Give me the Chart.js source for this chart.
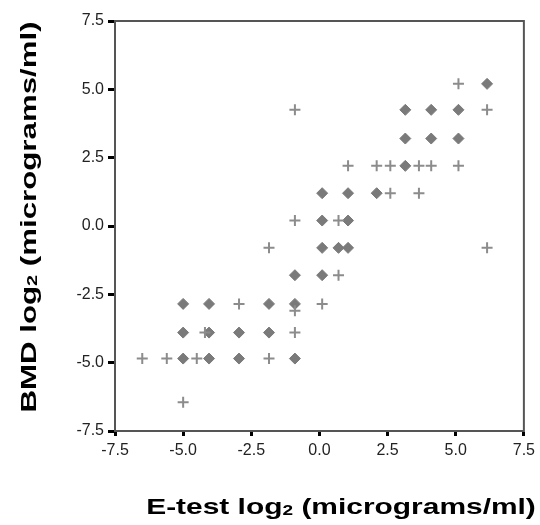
<!DOCTYPE html>
<html>
<head>
<meta charset="utf-8">
<script src="https://cdn.jsdelivr.net/npm/chart.js@4.4.1/dist/chart.umd.min.js"></script>
<style>
  html, body { margin: 0; background: #fff; }
  #wrap { width: 540px; height: 525px; }
</style>
</head>
<body>
<div id="wrap"><canvas id="myChart"></canvas></div>
<script>
// single cases (plain + markers)
const plusX = [5.1, -0.9, 6.15, 1.05, 2.1, 2.6, 3.65, 4.1, 5.1, 2.6, 3.65, -0.9, 0.7, -1.85, 6.15, 0.7, -2.95, 0.1, -0.9, -4.2, -0.9, -6.5, -5.6, -4.5, -1.85, -5.0];
const plusY = [5.2, 4.25, 4.25, 2.2, 2.2, 2.2, 2.2, 2.2, 2.2, 1.2, 1.2, 0.2, 0.2, -0.8, -0.8, -1.8, -2.85, -2.85, -3.1, -3.9, -3.9, -4.85, -4.85, -4.85, -4.85, -6.45];
// overlapping cases (filled markers)
const filledX = [6.15, 3.15, 4.1, 5.1, 3.15, 4.1, 5.1, 3.15, 0.1, 1.05, 2.1, 0.1, 1.05, 0.1, 0.7, 1.05, -0.9, 0.1, -5.0, -4.05, -1.85, -0.9, -5.0, -4.05, -2.95, -1.85, -5.0, -4.05, -2.95, -0.9];
const filledY = [5.2, 4.25, 4.25, 4.25, 3.2, 3.2, 3.2, 2.2, 1.2, 1.2, 1.2, 0.2, 0.2, -0.8, -0.8, -0.8, -1.8, -1.8, -2.85, -2.85, -2.85, -2.85, -3.9, -3.9, -3.9, -3.9, -4.85, -4.85, -4.85, -4.85];
const axisMin = -7.5;
const axisMax = 7.5;
const axisStep = 2.5;

const toPoints = (xs, ys) => xs.map((x, i) => ({ x: x, y: ys[i] }));

// box around plot + axis titles with subscript 2
const framePlugin = {
    id: 'frame',
    afterDraw(chart) {
        const { ctx, chartArea: a } = chart;
        ctx.save();
        ctx.strokeStyle = '#555';
        ctx.lineWidth = 2;
        ctx.strokeRect(a.left, a.top, a.right - a.left, a.bottom - a.top);

        const drawTitle = (parts, stretch) => {
            let w = 0;
            parts.forEach(p => { ctx.font = p[1]; w += ctx.measureText(p[0]).width; });
            ctx.scale(stretch, 1);
            let x = -w / 2;
            parts.forEach(p => {
                ctx.font = p[1];
                ctx.fillText(p[0], x, p[2]);
                x += ctx.measureText(p[0]).width;
            });
        };
        ctx.fillStyle = '#000';
        ctx.textBaseline = 'middle';
        ctx.textAlign = 'left';
        const big = 'bold 22px "Liberation Sans", Arial, sans-serif';
        const small = 'bold 14px "Liberation Sans", Arial, sans-serif';

        ctx.save();
        ctx.translate(341, 508);
        drawTitle([['E-test log', big, 0], ['2', small, 3], [' (micrograms/ml)', big, 0]], 1.36);
        ctx.restore();

        ctx.save();
        ctx.translate(30, 217);
        ctx.rotate(-Math.PI / 2);
        drawTitle([['BMD log', big, 0], ['2', small, 3], [' (micrograms/ml)', big, 0]], 1.42);
        ctx.restore();
        ctx.restore();
    }
};

const tickFont = { family: '"Liberation Sans", Arial, sans-serif', size: 16 };

const myChart = new Chart(document.getElementById('myChart'), {
    type: 'scatter',
    data: {
        datasets: [{
            label: 'single',
            data: toPoints(plusX, plusY),
            pointStyle: 'cross',
            pointRadius: 5.5,
            pointBorderWidth: 2,
            borderColor: '#8c8c8c',
            backgroundColor: '#8c8c8c'
        }, {
            label: 'overlap',
            data: toPoints(filledX, filledY),
            pointStyle: 'rectRot',
            pointRadius: 5.5,
            pointBorderWidth: 1,
            borderColor: '#7a7a7a',
            backgroundColor: '#7a7a7a'
        }]
    },
    options: {
        responsive: true,
        maintainAspectRatio: false,
        animation: false,
        events: [],
        layout: { padding: { top: 21, right: 14, left: 0, bottom: 0 } },
        plugins: {
            legend: { display: false },
            tooltip: { enabled: false }
        },
        scales: {
            x: {
                type: 'linear',
                min: axisMin,
                max: axisMax,
                afterFit(scale) { scale.height = 94; },
                ticks: {
                    stepSize: axisStep,
                    color: '#222',
                    font: tickFont,
                    padding: 5,
                    maxRotation: 0,
                    callback: v => v.toFixed(1)
                },
                grid: { drawOnChartArea: false, tickLength: 5, tickWidth: 3, tickColor: '#000' },
                border: { color: '#555', width: 2 }
            },
            y: {
                type: 'linear',
                min: axisMin,
                max: axisMax,
                afterFit(scale) { scale.width = 115; },
                ticks: {
                    stepSize: axisStep,
                    color: '#222',
                    font: tickFont,
                    padding: 4,
                    callback: v => v.toFixed(1)
                },
                grid: { drawOnChartArea: false, tickLength: 7, tickWidth: 3, tickColor: '#000' },
                border: { color: '#555', width: 2 }
            }
        }
    },
    plugins: [framePlugin]
});
</script>
</body>
</html>
